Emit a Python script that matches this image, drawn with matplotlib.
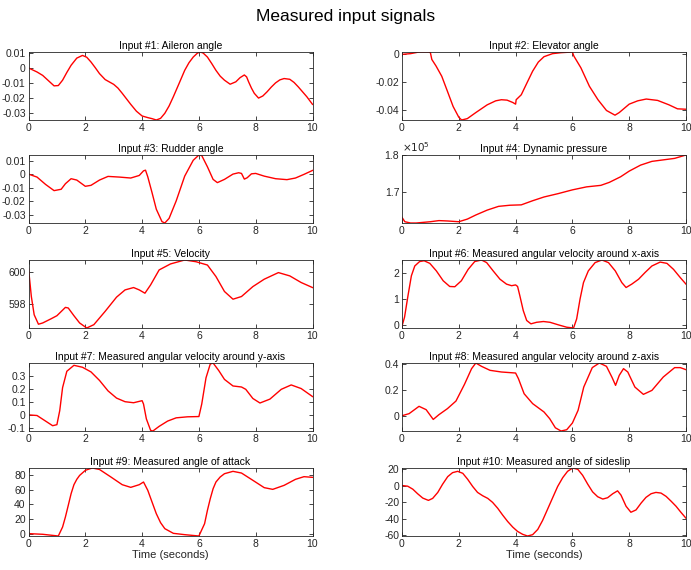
import numpy as np
import matplotlib
matplotlib.use("Agg")
import matplotlib.pyplot as plt

plt.rcParams['font.family'] = ['Liberation Sans', 'DejaVu Sans']

# values (time in seconds)
t_ail = [0, 0.3, 0.5, 0.7, 0.9, 1.05, 1.2, 1.35, 1.5, 1.7, 1.9, 2.05, 2.2, 2.35, 2.5, 2.7, 3.0, 3.15, 3.3, 3.45, 3.6, 3.8, 4.0, 4.2, 4.35, 4.5, 4.65, 4.8, 4.95, 5.1, 5.3, 5.5, 5.65, 5.8, 5.95, 6.05, 6.15, 6.3, 6.45, 6.6, 6.75, 6.9, 7.1, 7.3, 7.45, 7.6, 7.68, 7.75, 7.85, 7.95, 8.1, 8.25, 8.4, 8.55, 8.7, 8.85, 9.0, 9.2, 9.35, 9.5, 9.65, 9.8, 10]
aileron = [0, -0.0027, -0.005, -0.0085, -0.0120, -0.0118, -0.0082, -0.0030, 0.0018, 0.0066, 0.0084, 0.0072, 0.0040, 0.0002, -0.0038, -0.0078, -0.0110, -0.0135, -0.0170, -0.0207, -0.0244, -0.0290, -0.0322, -0.0333, -0.0340, -0.0349, -0.0338, -0.0304, -0.0255, -0.0193, -0.0105, -0.0016, 0.0035, 0.0073, 0.0100, 0.0107, 0.0100, 0.0073, 0.0030, -0.0016, -0.0055, -0.0082, -0.0109, -0.0093, -0.0065, -0.0047, -0.0060, -0.0093, -0.0135, -0.0170, -0.0202, -0.0188, -0.0160, -0.0128, -0.0100, -0.0080, -0.0071, -0.0076, -0.0097, -0.0127, -0.0160, -0.0193, -0.0244]

t_elev = [0, 0.3, 0.6, 0.95, 1.0, 1.05, 1.2, 1.4, 1.6, 1.8, 2.0, 2.1, 2.3, 2.6, 3.0, 3.3, 3.5, 3.7, 3.9, 4.0, 4.02, 4.2, 4.4, 4.6, 4.8, 5.0, 5.3, 5.6, 6.0, 6.05, 6.3, 6.6, 6.9, 7.2, 7.5, 7.65, 8.0, 8.3, 8.6, 9.0, 9.4, 9.7, 10]
elevator = [0, 0.0005, 0.0017, 0.0017, 0.0012, -0.0037, -0.0085, -0.0159, -0.0268, -0.0378, -0.0456, -0.0476, -0.0466, -0.0422, -0.0366, -0.0337, -0.0329, -0.0332, -0.0349, -0.0361, -0.0329, -0.0293, -0.0207, -0.0122, -0.0056, -0.0017, 0.0005, 0.0012, 0.0017, -0.0012, -0.0098, -0.0232, -0.0329, -0.0407, -0.0441, -0.0422, -0.0361, -0.0337, -0.0324, -0.0334, -0.0366, -0.0395, -0.0398]

t_rud = [0, 0.3, 0.6, 0.9, 1.15, 1.3, 1.5, 1.7, 2.0, 2.2, 2.5, 2.8, 3.2, 3.6, 3.9, 4.05, 4.12, 4.2, 4.35, 4.5, 4.7, 4.8, 4.95, 5.2, 5.5, 5.8, 6.0, 6.1, 6.3, 6.5, 6.65, 6.9, 7.2, 7.4, 7.5, 7.6, 7.7, 7.85, 8.0, 8.3, 8.7, 9.1, 9.4, 9.7, 10]
rudder = [0, -0.0022, -0.0076, -0.0122, -0.0112, -0.0071, -0.0034, -0.0044, -0.0090, -0.0083, -0.0044, -0.0017, -0.0022, -0.0029, -0.0010, 0.0024, 0.0029, -0.0020, -0.0137, -0.0259, -0.0351, -0.0361, -0.0327, -0.0198, -0.0015, 0.0102, 0.0141, 0.0137, 0.0054, -0.0039, -0.0063, -0.0039, 0, 0.0010, 0.0005, -0.0037, -0.0027, 0.0002, 0.0005, -0.0015, -0.0034, -0.0041, -0.0029, -0.0002, 0.0027]

t_dyn = [0, 0.1, 0.3, 0.5, 1.0, 1.3, 1.6, 2.0, 2.3, 2.6, 3.0, 3.4, 3.8, 4.2, 4.6, 5.0, 5.5, 6.0, 6.5, 7.0, 7.3, 7.7, 8.0, 8.4, 8.8, 9.2, 9.6, 10]
dyn_pressure = [1.6336, 1.6220, 1.6186, 1.6186, 1.6220, 1.6250, 1.6240, 1.6220, 1.6290, 1.6400, 1.6530, 1.6630, 1.6660, 1.6670, 1.6780, 1.6880, 1.6970, 1.7070, 1.7150, 1.7190, 1.7270, 1.7420, 1.7570, 1.7730, 1.7830, 1.7870, 1.7910, 1.8000]  # x 1e5

t_vel = [0, 0.1, 0.2, 0.35, 0.5, 0.8, 1.0, 1.3, 1.4, 1.6, 1.8, 2.05, 2.3, 2.7, 3.1, 3.4, 3.7, 3.9, 4.1, 4.3, 4.6, 5.0, 5.5, 5.9, 6.3, 6.6, 6.9, 7.2, 7.5, 7.9, 8.3, 8.8, 9.2, 9.6, 10]
velocity = [600.25, 598.46, 597.30, 596.70, 596.78, 597.05, 597.24, 597.77, 597.73, 597.24, 596.78, 596.46, 596.67, 597.52, 598.42, 598.88, 599.03, 598.88, 598.67, 599.20, 600.15, 600.53, 600.78, 600.67, 600.46, 599.73, 598.78, 598.29, 598.46, 599.09, 599.56, 599.98, 599.77, 599.35, 599.03]

t_p = [0, 0.09, 0.21, 0.33, 0.45, 0.62, 0.78, 0.98, 1.21, 1.45, 1.68, 1.86, 2.09, 2.33, 2.56, 2.8, 2.98, 3.21, 3.45, 3.68, 3.86, 4.0, 4.07, 4.15, 4.27, 4.39, 4.54, 4.74, 4.98, 5.21, 5.51, 5.8, 6.04, 6.15, 6.27, 6.39, 6.56, 6.8, 7.04, 7.27, 7.51, 7.74, 7.89, 8.09, 8.33, 8.56, 8.8, 9.09, 9.33, 9.56, 9.8, 10]
omega_x = [-0.04, 0.31, 1.13, 1.90, 2.28, 2.45, 2.48, 2.38, 2.09, 1.71, 1.49, 1.48, 1.71, 2.15, 2.45, 2.51, 2.41, 2.09, 1.77, 1.58, 1.52, 1.55, 1.49, 1.13, 0.56, 0.18, 0.05, 0.11, 0.14, 0.11, 0.01, -0.08, -0.11, 0.24, 1.01, 1.64, 2.09, 2.41, 2.51, 2.41, 2.09, 1.64, 1.45, 1.58, 1.77, 2.03, 2.28, 2.43, 2.38, 2.15, 1.83, 1.58]

t_q = [0, 0.3, 0.6, 0.85, 1.0, 1.1, 1.2, 1.35, 1.6, 1.9, 2.2, 2.5, 2.8, 3.1, 3.4, 3.7, 4.0, 4.05, 4.15, 4.3, 4.38, 4.6, 4.9, 5.2, 5.6, 6.0, 6.1, 6.25, 6.4, 6.5, 6.7, 6.9, 7.2, 7.5, 7.65, 7.9, 8.15, 8.5, 8.9, 9.25, 9.6, 10]
omega_y = [0, -0.005, -0.048, -0.084, -0.076, 0.033, 0.211, 0.338, 0.384, 0.369, 0.333, 0.267, 0.186, 0.130, 0.102, 0.094, 0.110, 0.084, -0.031, -0.120, -0.125, -0.089, -0.048, -0.023, -0.015, -0.013, 0.084, 0.287, 0.394, 0.402, 0.343, 0.275, 0.224, 0.216, 0.198, 0.127, 0.092, 0.122, 0.198, 0.232, 0.204, 0.142]

t_r = [0, 0.25, 0.6, 0.85, 1.1, 1.3, 1.6, 1.9, 2.2, 2.45, 2.6, 2.8, 3.1, 3.5, 4.0, 4.1, 4.3, 4.6, 5.0, 5.2, 5.4, 5.6, 5.8, 6.0, 6.2, 6.4, 6.7, 6.95, 7.2, 7.4, 7.52, 7.65, 7.8, 7.95, 8.2, 8.5, 8.8, 9.2, 9.6, 9.8, 10]
omega_z = [0, 0.016, 0.073, 0.047, -0.029, 0.008, 0.055, 0.114, 0.244, 0.366, 0.410, 0.384, 0.353, 0.340, 0.332, 0.288, 0.171, 0.094, 0.029, -0.023, -0.094, -0.119, -0.109, -0.057, 0.042, 0.223, 0.374, 0.410, 0.384, 0.296, 0.236, 0.314, 0.366, 0.340, 0.223, 0.166, 0.197, 0.301, 0.374, 0.374, 0.358]

t_aoa = [0, 0.5, 1.05, 1.2, 1.3, 1.4, 1.5, 1.6, 1.7, 1.8, 2.0, 2.1, 2.25, 2.5, 2.9, 3.3, 3.6, 3.9, 4.05, 4.2, 4.35, 4.5, 4.65, 4.8, 5.1, 5.5, 6.0, 6.2, 6.3, 6.4, 6.5, 6.6, 6.75, 6.9, 7.2, 7.5, 7.9, 8.3, 8.6, 9.0, 9.4, 9.7, 10]
alpha = [0.5, -0.4, -2.7, 9.4, 23.0, 38.6, 54.4, 66.5, 73.7, 79.0, 85.8, 87.2, 89.0, 87.0, 76.9, 66.5, 62.9, 66.5, 70.1, 58.9, 43.1, 27.4, 15.3, 7.2, 0.9, -0.9, -2.7, 13.9, 31.9, 47.6, 61.1, 70.1, 76.9, 81.3, 84.5, 82.2, 72.4, 62.5, 60.2, 65.6, 73.7, 77.3, 76.4]

t_beta = [0, 0.2, 0.38, 0.55, 0.73, 0.93, 1.08, 1.26, 1.43, 1.61, 1.78, 1.96, 2.14, 2.31, 2.49, 2.66, 2.84, 3.02, 3.19, 3.37, 3.54, 3.72, 3.9, 4.07, 4.25, 4.42, 4.6, 4.78, 4.95, 5.13, 5.31, 5.48, 5.66, 5.83, 6.01, 6.19, 6.36, 6.54, 6.71, 6.89, 7.07, 7.24, 7.42, 7.59, 7.71, 7.89, 8.06, 8.24, 8.42, 8.59, 8.77, 8.94, 9.12, 9.3, 9.47, 9.65, 9.82, 10]
beta = [0, -0.8, -4.4, -9.9, -15.1, -17.9, -15.5, -8.3, 1.6, 10.7, 15.5, 17.1, 14.7, 7.6, -1.2, -8.3, -12.3, -15.5, -20.3, -27.4, -35.4, -43.3, -50.1, -55.3, -58.8, -60.8, -59.2, -52.9, -42.1, -28.2, -14.3, -1.2, 9.5, 17.1, 21.1, 19.5, 12.3, 1.6, -7.6, -13.5, -16.3, -14.7, -9.9, -6.4, -11.5, -25.0, -32.2, -29.4, -21.1, -14.3, -9.9, -8.3, -9.1, -13.1, -18.7, -25.0, -32.2, -39.4]

titles = ["Input #1: Aileron angle", "Input #2: Elevator angle",
          "Input #3: Rudder angle", "Input #4: Dynamic pressure",
          "Input #5: Velocity", "Input #6: Measured angular velocity around x-axis",
          "Input #7: Measured angular velocity around y-axis",
          "Input #8: Measured angular velocity around z-axis",
          "Input #9: Measured angle of attack", "Input #10: Measured angle of sideslip"]

series = [(t_ail, aileron), (t_elev, elevator), (t_rud, rudder), (t_dyn, dyn_pressure),
          (t_vel, velocity), (t_p, omega_x), (t_q, omega_y), (t_r, omega_z),
          (t_aoa, alpha), (t_beta, beta)]

yticks = [[-0.03, -0.02, -0.01, 0, 0.01], [-0.04, -0.02, 0],
          [-0.03, -0.02, -0.01, 0, 0.01], [1.7, 1.8],
          [598, 600], [0, 1, 2],
          [-0.1, 0, 0.1, 0.2, 0.3], [0, 0.2, 0.4],
          [0, 20, 40, 60, 80], [-60, -40, -20, 0, 20]]

fig = plt.figure(figsize=(6.91, 5.70), dpi=100)
fig.suptitle("Measured input signals", fontsize=12.5, y=0.985)

W, H = 691, 570
lefts = [28.5, 402]
tops = [52, 155, 260, 363, 468]
gray = '#262626'

for i in range(10):
    row, col = divmod(i, 2)
    l = lefts[col]
    top = tops[row]
    ax = fig.add_axes([l / W, 1 - (top + 68) / H, 284 / W, 68 / H])
    t, v = series[i]
    ax.plot(t, v, color='red', lw=1.0)
    ax.set_xlim(0, 10)
    ax.set_ylim(min(v), max(v))
    ax.set_xticks([0, 2, 4, 6, 8, 10])
    ax.set_yticks(yticks[i])
    ax.set_yticklabels([('%g' % y) for y in yticks[i]])
    ax.tick_params(direction='in', top=True, right=True, length=3, width=0.6,
                   labelsize=7.5, colors=gray, pad=2)
    for s in ax.spines.values():
        s.set_linewidth(0.6)
        s.set_color(gray)
    ax.set_title(titles[i], fontsize=7.5, pad=2, color='black')
    if row == 4:
        ax.set_xlabel("Time (seconds)", fontsize=8, labelpad=1, color=gray)
    if i == 3:
        ax.text(0.0, 1.02, r"$\times10^5$", transform=ax.transAxes,
                fontsize=7.5, color=gray, ha='left', va='bottom')

fig.savefig("out.png", dpi=100)
